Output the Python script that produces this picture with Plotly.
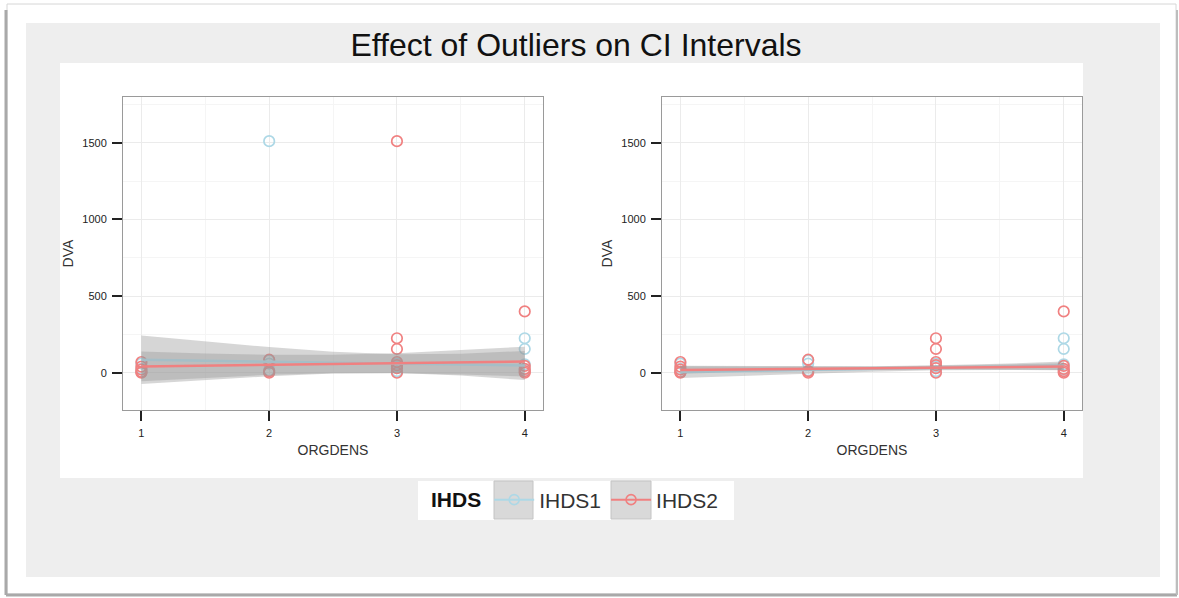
import plotly.graph_objects as go

# ---------------------------------------------------------------------------
# Data
# ---------------------------------------------------------------------------

# observed points, outlier-free part
ihds1_x = [1, 1, 1, 2, 2, 2, 3, 3, 3, 4, 4, 4, 4]
ihds1_y = [60, 25, 5, 80, 60, 15, 60, 40, 10, 225, 155, 55, 20]
ihds2_x = [1, 1, 1, 1, 1, 2, 2, 2, 3, 3, 3, 3, 3, 3, 4, 4, 4, 4, 4]
ihds2_y = [70, 40, 20, 5, 0, 85, 10, 0, 225, 155, 70, 50, 30, 0, 400, 45, 25, 10, 0]

# the two outliers (only in the left panel)
ihds1_out_x, ihds1_out_y = [2], [1510]
ihds2_out_x, ihds2_out_y = [3], [1510]

# linear smooth + 95% CI, sampled along ORGDENS
fit_x = [1, 1.5, 2, 2.5, 3, 3.5, 4]

# left panel: with outliers
ihds1_fit_L = [84, 78, 72, 66, 60, 53, 47]
ihds1_hi_L = [242, 203, 167, 137, 121, 124, 142]
ihds1_lo_L = [-74, -47, -23, -5, -1, -18, -48]
ihds2_fit_L = [41, 46, 52, 57, 62, 68, 73]
ihds2_hi_L = [138, 125, 117, 117, 127, 147, 170]
ihds2_lo_L = [-56, -33, -13, -3, -3, -11, -24]

# right panel: outliers removed
ihds1_fit_R = [5, 12, 18, 25, 32, 38, 45]
ihds1_hi_R = [45, 44, 42, 43, 48, 58, 73]
ihds1_lo_R = [-35, -20, -6, 7, 16, 18, 17]
ihds2_fit_R = [18, 22, 25, 29, 33, 36, 40]
ihds2_hi_R = [42, 40, 38, 40, 45, 52, 62]
ihds2_lo_R = [-6, 4, 12, 18, 21, 20, 18]

x_ticks = [1, 2, 3, 4]
y_ticks = [0, 500, 1000, 1500]

# ---------------------------------------------------------------------------
# Style
# ---------------------------------------------------------------------------

W, H = 1179, 598
BLUE = "#ADD8E6"
RED = "#F08080"
RIBBON = "rgba(153,153,153,0.4)"
FONT = "Liberation Sans, Arial, Helvetica, sans-serif"


def px(x):
    return x / W


def py(y):
    return 1 - y / H


fig = go.Figure()


def add_panel(xa, ya, pts, fits):
    # points first, then ribbon + line per group (ggplot layer order)
    for (x, y, color) in pts:
        fig.add_trace(go.Scatter(
            x=x, y=y, mode="markers", xaxis=xa, yaxis=ya,
            marker=dict(symbol="circle-open", size=10.5, color=color, line=dict(width=1.7)),
            showlegend=False, hoverinfo="skip",
        ))
    for (fit, hi, lo, color) in fits:
        fig.add_trace(go.Scatter(
            x=fit_x + fit_x[::-1], y=hi + lo[::-1], xaxis=xa, yaxis=ya,
            mode="lines", fill="toself", fillcolor=RIBBON, line=dict(width=0),
            showlegend=False, hoverinfo="skip",
        ))
        fig.add_trace(go.Scatter(
            x=fit_x, y=fit, xaxis=xa, yaxis=ya, mode="lines",
            line=dict(color=color, width=2.5), showlegend=False,
        ))


add_panel(
    "x", "y",
    [(ihds1_x + ihds1_out_x, ihds1_y + ihds1_out_y, BLUE),
     (ihds2_x + ihds2_out_x, ihds2_y + ihds2_out_y, RED)],
    [(ihds1_fit_L, ihds1_hi_L, ihds1_lo_L, BLUE),
     (ihds2_fit_L, ihds2_hi_L, ihds2_lo_L, RED)],
)
add_panel(
    "x2", "y2",
    [(ihds1_x, ihds1_y, BLUE), (ihds2_x, ihds2_y, RED)],
    [(ihds1_fit_R, ihds1_hi_R, ihds1_lo_R, BLUE),
     (ihds2_fit_R, ihds2_hi_R, ihds2_lo_R, RED)],
)

# legend-only entries (line + open circle like the ggplot key)
for name, color in [("IHDS1", BLUE), ("IHDS2", RED)]:
    fig.add_trace(go.Scatter(
        x=[None], y=[None], name=name, mode="lines+markers",
        line=dict(color=color, width=2),
        marker=dict(symbol="circle-open", size=10, color=color, line=dict(width=1.6)),
    ))

axis_common = dict(
    showline=True, mirror=True, linecolor="#9a9a9a", linewidth=1,
    ticks="outside", ticklen=10, tickwidth=2, tickcolor="#222",
    gridcolor="#ebebeb", gridwidth=1, zeroline=False,
    tickfont=dict(size=11, color="#222", family=FONT),
    title_font=dict(size=14, color="#333", family=FONT),
    ticklabelstandoff=3,
)
x_common = dict(
    axis_common, range=[0.856, 4.143], tickvals=x_ticks,
    minor=dict(dtick=0.5, tick0=1, showgrid=True, gridcolor="#f5f5f5", ticks=""),
    title_text="ORGDENS", title_standoff=6,
)
y_common = dict(
    axis_common, range=[-243, 1798], tickvals=y_ticks,
    minor=dict(dtick=250, tick0=0, showgrid=True, gridcolor="#f5f5f5", ticks=""),
    title_text="DVA", title_standoff=5,
)


def rect(x0, x1, y0, y1, fill, line_color=None, line_width=0):
    return dict(type="rect", xref="paper", yref="paper",
                x0=px(x0), x1=px(x1), y0=py(y1), y1=py(y0),
                line=dict(color=line_color or fill, width=line_width),
                fillcolor=fill, layer="below")


def line(x0, x1, y0, y1, color, width):
    return dict(type="line", xref="paper", yref="paper",
                x0=px(x0), x1=px(x1), y0=py(y0), y1=py(y1),
                line=dict(color=color, width=width), layer="below")


shapes = [
    # outer frame with shadow
    rect(7, 1176, 4, 594, "white", "#d6d6d6", 1),
    line(6, 6, 10, 595, "#a9a9a9", 3),
    line(6, 1177, 595, 595, "#a9a9a9", 3),
    line(1177, 1177, 10, 595, "#bdbdbd", 2),
    # grey page
    rect(26, 1160, 23, 577, "#eeeeee"),
    # white plot area
    rect(60, 1083, 63, 478, "white"),
    # legend box and key backgrounds
    rect(418, 734, 481, 520, "white"),
    rect(494, 533, 481, 519, "#d9d9d9", "#c4c4c4", 1),
    rect(611, 651, 481, 519, "#d9d9d9", "#c4c4c4", 1),
]

fig.update_layout(
    width=W, height=H,
    margin=dict(l=0, r=0, t=0, b=0),
    paper_bgcolor="white", plot_bgcolor="rgba(0,0,0,0)",
    font=dict(family=FONT, color="#333"),
    title=dict(
        text="Effect of Outliers on CI Intervals",
        x=px(576), xanchor="center", y=py(45), yanchor="middle",
        font=dict(size=32, color="#111", family=FONT),
    ),
    xaxis=dict(x_common, domain=[px(123), px(543)], anchor="y"),
    yaxis=dict(y_common, domain=[py(410), py(97)], anchor="x"),
    xaxis2=dict(x_common, domain=[px(662), px(1082)], anchor="y2"),
    yaxis2=dict(y_common, domain=[py(410), py(97)], anchor="x2"),
    legend=dict(
        orientation="h", x=px(429), xanchor="left", y=py(500), yanchor="middle",
        bgcolor="rgba(0,0,0,0)",
        title=dict(text="<b>IHDS</b>", font=dict(size=21, color="#111", family=FONT)),
        font=dict(size=21, color="#333", family=FONT),
        itemwidth=40,
    ),
    shapes=shapes,
)

# the page body has an 8px default margin; drop it so the figure fills the window
fig.write_html(
    "out.html",
    config={"displayModeBar": False},
    post_script="document.body.style.margin='0';",
)
